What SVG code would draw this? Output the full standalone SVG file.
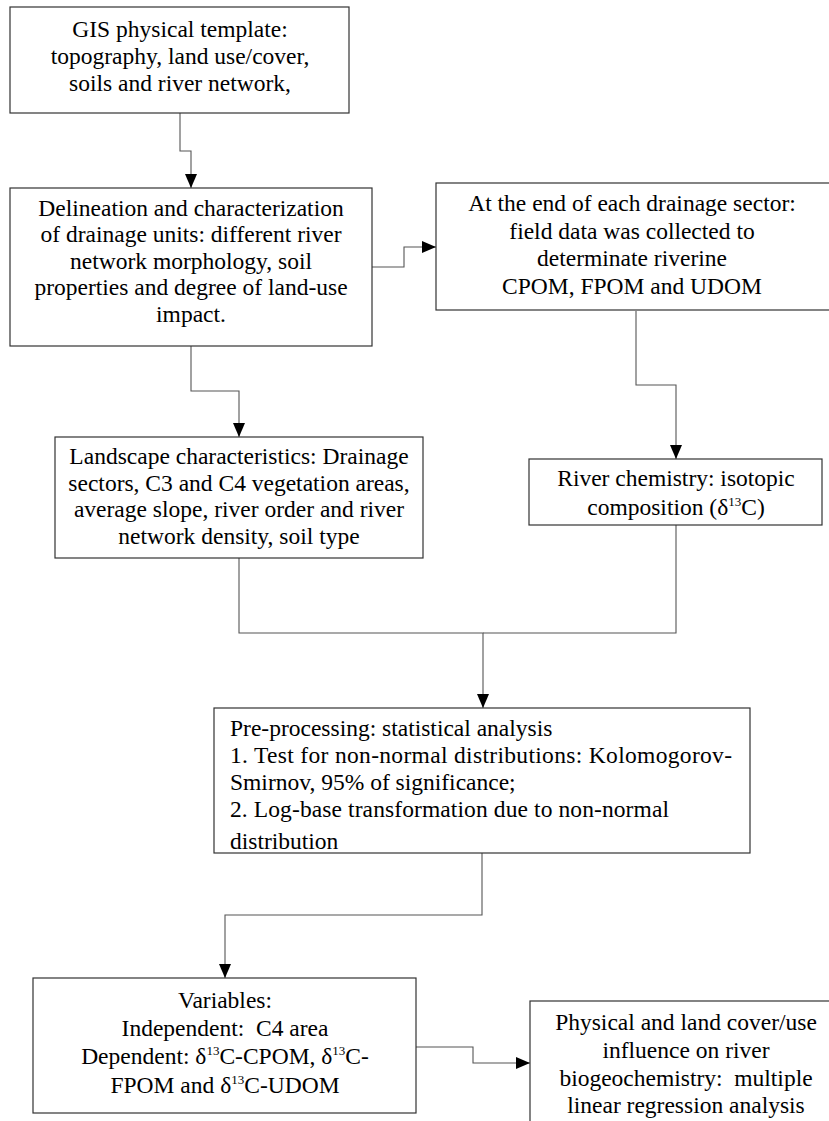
<svg xmlns="http://www.w3.org/2000/svg" width="829" height="1121" viewBox="0 0 829 1121">
<style>
.box{fill:#fff;stroke:#333;stroke-width:1.2}
.t{font-family:'Liberation Serif','Times New Roman',serif;font-size:23.5px;fill:#000}
.c{text-anchor:middle}
.sup{font-size:13px}
.conn path{fill:none;stroke:#555;stroke-width:1.1}
</style>
<defs>
<marker id="ah" markerUnits="userSpaceOnUse" markerWidth="14" markerHeight="12" refX="14" refY="6" orient="auto">
<path d="M0,0 L14,6 L0,12 Z" fill="#000"/>
</marker>
<clipPath id="clip6"><rect x="214" y="708" width="536" height="141"/></clipPath>
</defs>
<rect width="829" height="1121" fill="#fff"/>
<g class="conn">
<path d="M180,113 V151 H191 V188" marker-end="url(#ah)"/>
<path d="M372,267 H404 V247 H436" marker-end="url(#ah)"/>
<path d="M191,346 V391 H239 V437" marker-end="url(#ah)"/>
<path d="M636,311 V385 H676 V459" marker-end="url(#ah)"/>
<path d="M676,525 V633 H483"/>
<path d="M239,558 V633 H483 V708" marker-end="url(#ah)"/>
<path d="M482,853 V915 H225 V978" marker-end="url(#ah)"/>
<path d="M416,1047 H473 V1063 H530" marker-end="url(#ah)"/>
</g>
<g id="n1">
<rect class="box" x="10" y="7" width="339" height="106"/>
<text class="t c" x="180" y="37">GIS physical template:</text>
<text class="t c" x="180" y="64">topography, land use/cover,</text>
<text class="t c" x="180" y="91">soils and river network,</text>
</g>
<g id="n2">
<rect class="box" x="10" y="188" width="362" height="158"/>
<text class="t c" x="191" y="216">Delineation and characterization</text>
<text class="t c" x="191" y="242">of drainage units: different river</text>
<text class="t c" x="191" y="269">network morphology, soil</text>
<text class="t c" x="191" y="295">properties and degree of land-use</text>
<text class="t c" x="191" y="322">impact.</text>
</g>
<g id="n3">
<rect class="box" x="436" y="183" width="400" height="127"/>
<text class="t c" x="632" y="211">At the end of each drainage sector:</text>
<text class="t c" x="632" y="239">field data was collected to</text>
<text class="t c" x="632" y="266">determinate riverine</text>
<text class="t c" x="632" y="294">CPOM, FPOM and UDOM</text>
</g>
<g id="n4">
<rect class="box" x="55" y="437" width="368" height="121"/>
<text class="t c" x="239" y="464">Landscape characteristics: Drainage</text>
<text class="t c" x="239" y="491">sectors, C3 and C4 vegetation areas,</text>
<text class="t c" x="239" y="517">average slope, river order and river</text>
<text class="t c" x="239" y="544">network density, soil type</text>
</g>
<g id="n5">
<rect class="box" x="529" y="459" width="293" height="66"/>
<text class="t c" x="676" y="486">River chemistry: isotopic</text>
<text class="t c" x="676" y="515">composition (δ<tspan class="sup" dy="-9">13</tspan><tspan dy="9">C)</tspan></text>
</g>
<g id="n6">
<rect class="box" x="214" y="708" width="536" height="145"/>
<g clip-path="url(#clip6)">
<text class="t" x="230" y="736">Pre-processing: statistical analysis</text>
<text class="t" x="230" y="763" textLength="502" lengthAdjust="spacing">1. Test for non-normal distributions: Kolomogorov-</text>
<text class="t" x="230" y="790">Smirnov, 95% of significance;</text>
<text class="t" x="230" y="817" textLength="439" lengthAdjust="spacing">2. Log-base transformation due to non-normal</text>
<text class="t" x="230" y="849">distribution</text>
</g>
</g>
<g id="n7">
<rect class="box" x="33" y="978" width="383" height="135"/>
<text class="t c" x="225" y="1008">Variables:</text>
<text class="t c" x="225" y="1036" xml:space="preserve">Independent:  C4 area</text>
<text class="t c" x="225" y="1064">Dependent: δ<tspan class="sup" dy="-9">13</tspan><tspan dy="9">C-CPOM, δ</tspan><tspan class="sup" dy="-9">13</tspan><tspan dy="9">C-</tspan></text>
<text class="t c" x="225" y="1093">FPOM and δ<tspan class="sup" dy="-9">13</tspan><tspan dy="9">C-UDOM</tspan></text>
</g>
<g id="n8">
<rect class="box" x="530" y="1001" width="320" height="140"/>
<text class="t c" x="686" y="1030">Physical and land cover/use</text>
<text class="t c" x="686" y="1058">influence on river</text>
<text class="t c" x="686" y="1086" xml:space="preserve">biogeochemistry:  multiple</text>
<text class="t c" x="686" y="1113">linear regression analysis</text>
</g>
</svg>
